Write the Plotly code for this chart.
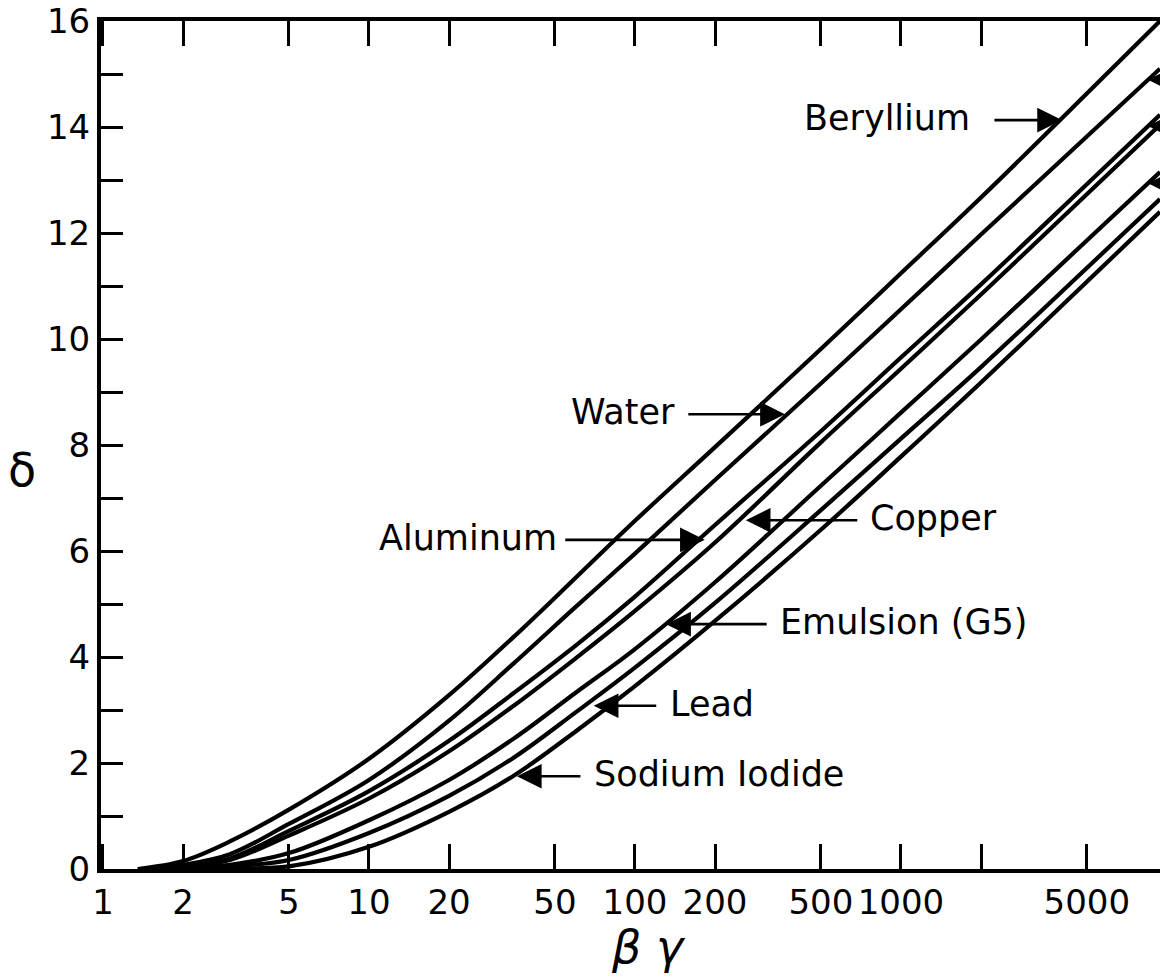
import math
import plotly.graph_objects as go

# density-effect correction delta versus beta*gamma, one curve per material
bg_beryllium = [1.35, 2, 3, 5, 10, 20, 35, 60, 100, 200, 500, 1000, 2000, 5000, 9420]
d_beryllium = [0, 0.15, 0.52, 1.12, 2.08, 3.28, 4.38, 5.50, 6.57, 7.96, 9.81, 11.24, 12.67, 14.63, 16.0]

bg_water = [1.4, 2, 3, 5, 10, 20, 35, 60, 100, 200, 500, 1000, 2000, 5000, 9420]
d_water = [0, 0.08, 0.28, 0.85, 1.68, 2.80, 3.88, 4.95, 5.95, 7.34, 9.16, 10.56, 11.97, 13.82, 15.1]

bg_aluminum = [1.45, 2, 3, 5, 10, 20, 35, 60, 100, 200, 500, 1000, 2000, 5000, 9420]
d_aluminum = [0, 0.05, 0.20, 0.72, 1.47, 2.42, 3.32, 4.22, 5.14, 6.49, 8.26, 9.65, 11.03, 12.92, 14.23]

bg_copper = [1.5, 2, 3, 5, 10, 20, 35, 60, 100, 200, 500, 1000, 2000, 5000, 9420]
d_copper = [0, 0.04, 0.17, 0.63, 1.33, 2.22, 3.08, 3.98, 4.87, 6.16, 8.05, 9.44, 10.84, 12.73, 14.04]

bg_emulsion = [1.6, 2, 3, 5, 10, 20, 35, 60, 100, 200, 500, 1000, 2000, 5000, 9420]
d_emulsion = [0, 0.02, 0.08, 0.30, 0.92, 1.68, 2.46, 3.33, 4.15, 5.41, 7.23, 8.61, 9.99, 11.86, 13.15]

bg_lead = [1.8, 3, 5, 10, 20, 35, 60, 100, 200, 500, 1000, 2000, 5000, 9420]
d_lead = [0, 0.05, 0.17, 0.68, 1.38, 2.10, 2.96, 3.80, 5.02, 6.77, 8.12, 9.47, 11.34, 12.64]

bg_nai = [2.2, 3, 5, 10, 20, 35, 60, 100, 200, 500, 1000, 2000, 5000, 9420]
d_nai = [0, 0.01, 0.05, 0.42, 1.08, 1.76, 2.60, 3.45, 4.68, 6.40, 7.78, 9.18, 11.08, 12.40]

curves = [
    ("Beryllium", bg_beryllium, d_beryllium),
    ("Water", bg_water, d_water),
    ("Aluminum", bg_aluminum, d_aluminum),
    ("Copper", bg_copper, d_copper),
    ("Emulsion (G5)", bg_emulsion, d_emulsion),
    ("Lead", bg_lead, d_lead),
    ("Sodium Iodide", bg_nai, d_nai),
]

# arrow tip on each curve (beta*gamma, delta) and arrow length in px
# (negative: label sits left and the arrow points right)
label_names = ["Beryllium", "Water", "Aluminum", "Copper", "Emulsion (G5)", "Lead", "Sodium Iodide"]
label_bg = [4030, 366, 183, 261, 131, 70, 36]
label_d = [14.13, 8.58, 6.21, 6.58, 4.62, 3.08, 1.75]
label_arrow = [-69, -98, -141, 113, 102, 64, 65]
label_gap = [21, 10, 5, 9, 10, 10, 10]

# arrows coming in from labels beyond the right edge
edge_bg = [8490, 8490, 8490]
edge_d = [14.89, 14.02, 12.94]

x_tickvals = [1, 2, 5, 10, 20, 50, 100, 200, 500, 1000, 2000, 5000]
x_ticktext = ["1", "2", "5", "10", "20", "50", "100", "200", "500", "1000", "", "5000"]
y_tickvals = list(range(0, 17))
y_ticktext = [str(v) if v % 2 == 0 else "" for v in y_tickvals]

FONT = "DejaVu Sans"
INK = "black"

fig = go.Figure()
for name, xs, ys in curves:
    fig.add_trace(go.Scatter(
        x=xs, y=ys, mode="lines", name=name,
        line=dict(color=INK, width=4.2, shape="spline", smoothing=1.0),
        showlegend=False, hoverinfo="skip",
    ))

arrow_style = dict(arrowhead=2, arrowsize=1.9, arrowwidth=2.6, arrowcolor=INK, standoff=0)

annotations = []
for name, bg, d, ax, gap in zip(label_names, label_bg, label_d, label_arrow, label_gap):
    lx = math.log10(bg)
    annotations.append(dict(
        x=lx, y=d, xref="x", yref="y", text="", showarrow=True,
        ax=ax, ay=0, axref="pixel", ayref="pixel", **arrow_style,
    ))
    shift = ax - gap if ax < 0 else ax + gap
    annotations.append(dict(
        x=lx, y=d, xref="x", yref="y", text=name, showarrow=False,
        xanchor="right" if ax < 0 else "left", yanchor="middle",
        xshift=shift, yshift=2,
        font=dict(family=FONT, size=35, color=INK),
    ))
for bg, d in zip(edge_bg, edge_d):
    annotations.append(dict(
        x=math.log10(bg), y=d, xref="x", yref="y", text="", showarrow=True,
        ax=80, ay=0, axref="pixel", ayref="pixel", **arrow_style,
    ))

W, H = 1160, 977
L, R, T, B = 101, 0, 21, 108


def paper_x(px):
    return (px - L) / (W - L - R)


def paper_y(py):
    return 1 - (py - T) / (H - T - B)


annotations.append(dict(
    x=paper_x(22), y=paper_y(470), xref="paper", yref="paper", text="δ",
    showarrow=False, xanchor="center", yanchor="middle",
    font=dict(family=FONT, size=46, color=INK),
))
annotations.append(dict(
    x=paper_x(648), y=paper_y(947), xref="paper", yref="paper", text="<i>β γ</i>",
    showarrow=False, xanchor="center", yanchor="middle",
    font=dict(family=FONT, size=46, color=INK),
))

fig.update_layout(
    width=W, height=H,
    margin=dict(l=L, r=R, t=T, b=B, pad=0),
    paper_bgcolor="white", plot_bgcolor="white",
    font=dict(family=FONT, color=INK),
    annotations=annotations,
    xaxis=dict(
        type="log", range=[-0.0075, 3.974],
        tickvals=x_tickvals, ticktext=x_ticktext,
        ticks="inside", ticklen=25, tickwidth=3, tickcolor=INK,
        showline=True, linewidth=4, linecolor=INK, mirror="ticks",
        showgrid=False, zeroline=False,
        tickfont=dict(family=FONT, size=34, color=INK),
    ),
    yaxis=dict(
        range=[0, 16], tickvals=y_tickvals, ticktext=y_ticktext,
        ticks="inside", ticklen=22, tickwidth=3, tickcolor=INK,
        showline=True, linewidth=4, linecolor=INK, mirror=False,
        showgrid=False, zeroline=False,
        tickfont=dict(family=FONT, size=34, color=INK),
    ),
    yaxis2=dict(
        range=[0, 16], overlaying="y", side="right", anchor="x",
        tickvals=y_tickvals, showticklabels=False,
        ticks="inside", ticklen=16, tickwidth=3, tickcolor=INK,
        showline=False, showgrid=False, zeroline=False,
    ),
)

fig.write_html("out.html")
